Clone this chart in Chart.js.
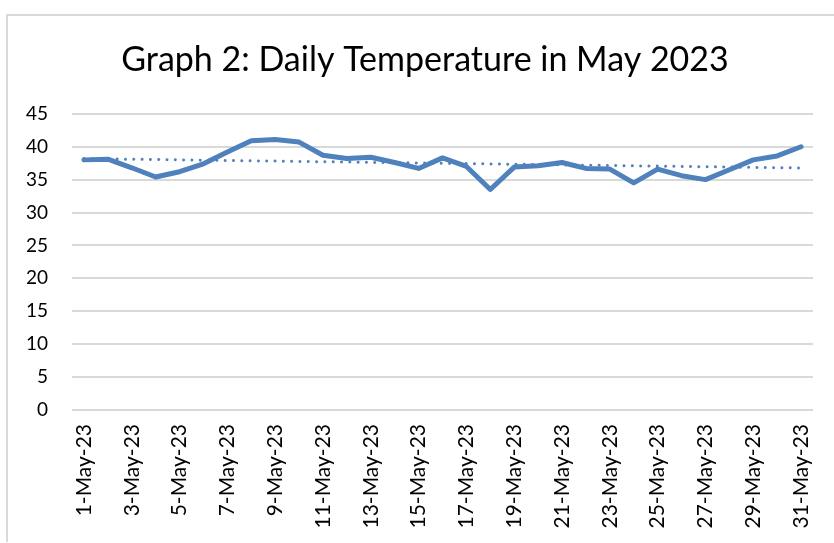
<!DOCTYPE html>
<html>
<head>
<meta charset="utf-8">
<title>Daily Temperature in May 2023</title>
<script src="https://cdn.jsdelivr.net/npm/chart.js@4.4.0/dist/chart.umd.min.js"></script>
<style>
    html, body { margin: 0; padding: 0; background: #ffffff; }
    body { width: 834px; height: 543px; position: relative; overflow: hidden; }
    .frame {
        position: absolute;
        left: 6px;
        top: 14px;
        width: 840px;
        height: 526px;
        border-top: 2px solid #d9d9d9;
        border-left: 2px solid #d9d9d9;
    }
    #tempChart { position: absolute; left: 8px; top: 16px; }
</style>
</head>
<body>
<div class="frame"></div>
<canvas id="tempChart" width="834" height="527"></canvas>
<script>
const days = [
    '1-May-23', '2-May-23', '3-May-23', '4-May-23', '5-May-23', '6-May-23', '7-May-23', '8-May-23',
    '9-May-23', '10-May-23', '11-May-23', '12-May-23', '13-May-23', '14-May-23', '15-May-23', '16-May-23',
    '17-May-23', '18-May-23', '19-May-23', '20-May-23', '21-May-23', '22-May-23', '23-May-23', '24-May-23',
    '25-May-23', '26-May-23', '27-May-23', '28-May-23', '29-May-23', '30-May-23', '31-May-23'
];
const temperatures = [
    38.0, 38.1, 36.8, 35.4, 36.2, 37.4, 39.2, 40.9,
    41.1, 40.7, 38.7, 38.2, 38.4, 37.6, 36.7, 38.3,
    37.0, 33.5, 36.9, 37.1, 37.6, 36.7, 36.6, 34.5,
    36.6, 35.6, 35.0, 36.5, 38.0, 38.6, 40.0
];
const yTicks = [0, 5, 10, 15, 20, 25, 30, 35, 40, 45];

// least-squares linear trend of the daily readings
function linearTrend(values) {
    const n = values.length;
    const meanX = (n - 1) / 2;
    const meanY = values.reduce((a, b) => a + b, 0) / n;
    let num = 0, den = 0;
    values.forEach((v, i) => {
        num += (i - meanX) * (v - meanY);
        den += (i - meanX) * (i - meanX);
    });
    const slope = num / den;
    return values.map((v, i) => meanY + slope * (i - meanX));
}

const fontFamily = "Lato, 'Noto Sans', sans-serif";
const lineBlue = '#4F81BD';

new Chart(document.getElementById('tempChart'), {
    type: 'line',
    data: {
        labels: days,
        datasets: [
            {
                label: 'Linear (Temperature)',
                data: linearTrend(temperatures),
                borderColor: lineBlue,
                borderWidth: 3,
                borderDash: [0.01, 8.3],
                borderCapStyle: 'round',
                pointRadius: 0,
                tension: 0,
                order: 0
            },
            {
                label: 'Temperature',
                data: temperatures,
                borderColor: lineBlue,
                borderWidth: 5,
                borderJoinStyle: 'round',
                borderCapStyle: 'round',
                pointRadius: 0,
                tension: 0,
                order: 1
            }
        ]
    },
    options: {
        responsive: false,
        animation: false,
        layout: { padding: 0 },
        plugins: {
            legend: { display: false },
            tooltip: { enabled: false },
            title: {
                display: true,
                text: 'Graph 2: Daily Temperature in May 2023',
                color: '#000000',
                font: { family: fontFamily, size: 34, weight: 'normal' },
                padding: { top: 24, bottom: 33 }
            }
        },
        scales: {
            x: {
                offset: true,
                grid: { display: false, drawTicks: false },
                border: { display: false },
                afterFit: (scale) => {
                    scale.height = 133;
                    // keep the plot clear of the right edge while the title stays centred
                    scale.paddingRight = 29;
                },
                ticks: {
                    autoSkip: false,
                    minRotation: 90,
                    maxRotation: 90,
                    padding: 14,
                    color: '#000000',
                    font: { family: fontFamily, size: 21 },
                    callback: (value, index) => (index % 2 === 0 ? days[index] : '')
                }
            },
            y: {
                min: 0,
                max: 45,
                afterFit: (scale) => { scale.width = 64; },
                afterBuildTicks: (scale) => { scale.ticks = yTicks.map(v => ({ value: v })); },
                grid: { color: '#d9d9d9', lineWidth: 2, drawTicks: false },
                border: { display: false },
                ticks: {
                    padding: 24,
                    color: '#000000',
                    font: { family: fontFamily, size: 19 }
                }
            }
        }
    }
});
</script>
</body>
</html>
